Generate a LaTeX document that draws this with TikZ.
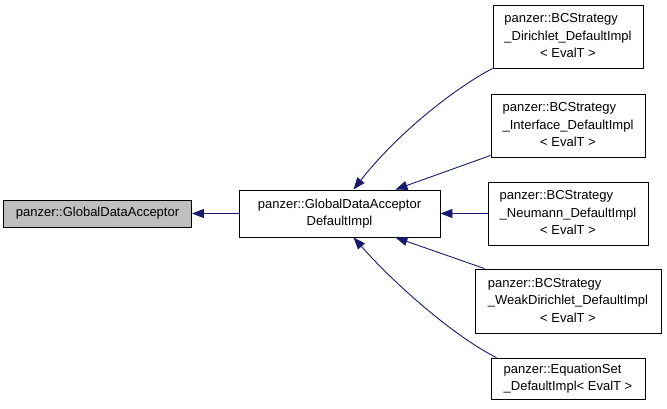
\documentclass[tikz,border=0pt]{standalone}
\usepackage{fontspec}
\setmainfont{Liberation Sans}
\usetikzlibrary{arrows.meta}
\definecolor{edge-blue}{RGB}{25,25,112}
\definecolor{base-gray}{HTML}{BFBFBF}

% two left lines, centred template line
\newcommand{\tplname}[3]{\begin{tabular}{@{}l@{}}#1\\#2\\\multicolumn{1}{@{}c@{}}{#3}\end{tabular}}

\begin{document}
\begin{tikzpicture}[
    x=1pt, y=-1pt,
    classbox/.style={
        draw=black, fill=white, line width=0.9pt, inner sep=0pt,
        align=center, font=\fontsize{13}{17.5}\selectfont,
    },
    inheritline/.style={
        draw=edge-blue, line width=0.9pt,
        -{Triangle[length=12pt,width=9pt]},
    },
]
\useasboundingbox (0,0) rectangle (667,408);

\node[classbox, fill=base-gray, minimum width=188pt, minimum height=27pt]
    (acceptor) at (97.5,213.5) {panzer::GlobalDataAcceptor};
\node[classbox, minimum width=201pt, minimum height=47pt]
    (defimpl) at (339.5,213.5) {panzer::GlobalDataAcceptor\\DefaultImpl};

\node[classbox, minimum width=150pt, minimum height=63pt]
    (dirichlet) at (568,36.5) {\tplname{panzer::BCStrategy}{\_Dirichlet\_DefaultImpl}{< EvalT >}};
\node[classbox, minimum width=154pt, minimum height=63pt]
    (interface) at (568,125.5) {\tplname{panzer::BCStrategy}{\_Interface\_DefaultImpl}{< EvalT >}};
\node[classbox, minimum width=160pt, minimum height=63pt]
    (neumann) at (568,213.5) {\tplname{panzer::BCStrategy}{\_Neumann\_DefaultImpl}{< EvalT >}};
\node[classbox, minimum width=186pt, minimum height=64pt]
    (weakdir) at (568,301) {\tplname{panzer::BCStrategy}{\_WeakDirichlet\_DefaultImpl}{< EvalT >}};
\node[classbox, align=left, minimum width=154pt, minimum height=41pt]
    (eqset) at (568,378.5) {panzer::EquationSet\\\_DefaultImpl< EvalT >};

\draw[inheritline] (defimpl.west) -- (acceptor.east);

\draw[inheritline] (dirichlet.south west)
    .. controls +(-33,17) and +(47,-60) .. ([xshift=14pt]defimpl.north);
\draw[inheritline] ([yshift=2pt]interface.south west) -- ([xshift=-45pt]defimpl.north east);
\draw[inheritline] (neumann.west) -- (defimpl.east);
\draw[inheritline] ([xshift=10pt]weakdir.north west) -- ([xshift=-45pt]defimpl.south east);
\draw[inheritline] ([xshift=6pt]eqset.north west)
    .. controls +(-37,-18) and +(47,53) .. ([xshift=14pt]defimpl.south);
\end{tikzpicture}
\end{document}
